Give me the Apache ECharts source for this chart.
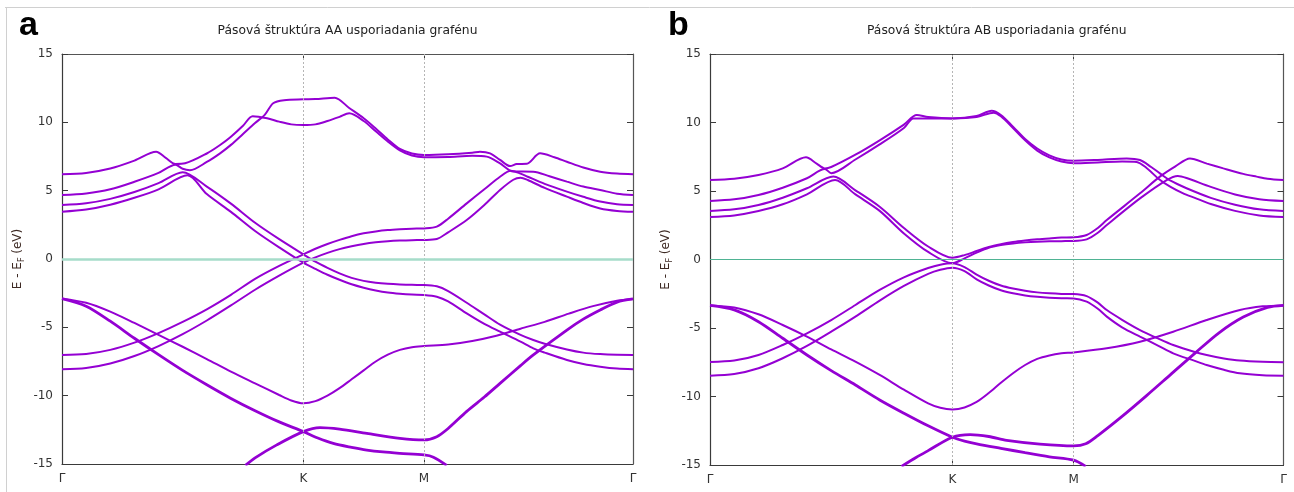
<!DOCTYPE html>
<html><head><meta charset="utf-8">
<script src="https://cdn.jsdelivr.net/npm/echarts@6/dist/echarts.min.js"></script>
<style>html,body{margin:0;padding:0;background:#fff;}#c{width:1294px;height:492px;}</style>
</head><body><div id="c"></div>
<script>
// ---- path / tick data ----
const kTickValues = [0, 1, 1.5, 2.366];
const kTickLabels = ['Γ', 'K', 'M', 'Γ'];
const kInnerTicks = [1, 1.5];
const eMin = -15, eMax = 15, eStep = 5;
const titles = ['Pásová štruktúra AA usporiadania grafénu', 'Pásová štruktúra AB usporiadania grafénu'];
const panelLetters = ['a', 'b'];

// ---- AA stacking bands [k, E] ----
const aa1 = [[0,6.2],[0.1,6.3],[0.2,6.62],[0.3,7.2],[0.39,7.85],[0.43,7.4],[0.47,6.95],[0.51,7.0],[0.6,7.72],[0.655,8.34],[0.7,8.95],[0.75,9.75],[0.79,10.45],[0.85,10.3],[0.9,10.05],[0.95,9.85],[1.0,9.8],[1.05,9.85],[1.1,10.1],[1.15,10.4],[1.19,10.66],[1.25,10.1],[1.3,9.35],[1.35,8.6],[1.4,7.95],[1.45,7.57],[1.5,7.44],[1.6,7.47],[1.7,7.55],[1.76,7.49],[1.815,7.0],[1.87,6.4],[1.953,6.39],[2.02,6.05],[2.092,5.66],[2.16,5.3],[2.23,5.05],[2.3,4.78],[2.366,4.68]];
const aa2 = [[0,4.68],[0.1,4.8],[0.2,5.1],[0.3,5.65],[0.4,6.3],[0.47,6.9],[0.5,6.6],[0.53,6.5],[0.6,7.1],[0.655,7.73],[0.7,8.35],[0.75,9.15],[0.8,9.95],[0.84,10.55],[0.875,11.4],[0.92,11.62],[1.0,11.68],[1.05,11.7],[1.13,11.8],[1.19,11.05],[1.25,10.3],[1.3,9.55],[1.35,8.75],[1.4,8.05],[1.45,7.72],[1.5,7.61],[1.6,7.66],[1.7,7.78],[1.732,7.85],[1.774,7.73],[1.815,7.25],[1.857,6.8],[1.884,6.95],[1.926,6.97],[1.981,7.73],[2.04,7.45],[2.092,7.12],[2.16,6.7],[2.23,6.39],[2.3,6.25],[2.366,6.2]];
const aa3 = [[0,3.95],[0.1,4.08],[0.2,4.4],[0.3,4.9],[0.4,5.55],[0.5,6.35],[0.6,5.3],[0.7,4.05],[0.8,2.65],[0.9,1.45],[1.0,0.34],[1.05,-0.2],[1.1,-0.65],[1.15,-1.05],[1.2,-1.38],[1.25,-1.6],[1.3,-1.73],[1.35,-1.81],[1.4,-1.86],[1.45,-1.89],[1.5,-1.9],[1.553,-2.0],[1.6,-2.35],[1.677,-3.2],[1.75,-4.05],[1.815,-4.8],[1.9,-5.55],[1.953,-5.93],[2.0,-6.2],[2.092,-6.62],[2.16,-6.85],[2.23,-6.96],[2.3,-7.01],[2.366,-7.02]];
const aa4 = [[0,3.46],[0.1,3.62],[0.2,3.97],[0.3,4.48],[0.4,5.1],[0.52,6.12],[0.6,4.75],[0.7,3.45],[0.8,2.05],[0.9,0.85],[1.0,-0.27],[1.05,-0.72],[1.1,-1.15],[1.15,-1.52],[1.2,-1.85],[1.25,-2.1],[1.3,-2.3],[1.35,-2.45],[1.4,-2.54],[1.45,-2.6],[1.5,-2.63],[1.553,-2.76],[1.6,-3.1],[1.677,-3.98],[1.75,-4.75],[1.815,-5.32],[1.9,-6.05],[1.953,-6.54],[2.0,-6.85],[2.092,-7.39],[2.16,-7.68],[2.23,-7.88],[2.3,-8.02],[2.366,-8.07]];
const aa5 = [[0,-7.02],[0.1,-6.95],[0.2,-6.65],[0.3,-6.12],[0.4,-5.42],[0.5,-4.6],[0.6,-3.68],[0.7,-2.62],[0.8,-1.45],[0.9,-0.5],[1.0,0.34],[1.05,0.75],[1.1,1.1],[1.15,1.4],[1.2,1.67],[1.25,1.88],[1.3,2.02],[1.35,2.12],[1.4,2.18],[1.45,2.22],[1.5,2.24],[1.553,2.37],[1.6,2.95],[1.677,4.07],[1.75,5.1],[1.815,6.02],[1.86,6.45],[1.9,6.25],[1.93,6.02],[2.0,5.5],[2.092,4.93],[2.16,4.55],[2.23,4.2],[2.3,4.0],[2.366,3.95]];
const aa6 = [[0,-8.07],[0.1,-7.98],[0.2,-7.65],[0.3,-7.1],[0.4,-6.37],[0.5,-5.5],[0.6,-4.5],[0.7,-3.4],[0.8,-2.25],[0.9,-1.22],[1.0,-0.27],[1.05,0.12],[1.1,0.45],[1.15,0.72],[1.2,0.93],[1.25,1.1],[1.3,1.22],[1.35,1.3],[1.4,1.35],[1.45,1.38],[1.5,1.39],[1.553,1.46],[1.6,1.95],[1.677,2.85],[1.75,3.95],[1.815,5.05],[1.87,5.8],[1.9,5.95],[1.93,5.78],[2.0,5.2],[2.092,4.56],[2.16,4.1],[2.23,3.7],[2.3,3.52],[2.366,3.46]];
const aa7 = [[0,-2.9],[0.1,-3.2],[0.2,-3.85],[0.3,-4.68],[0.4,-5.55],[0.5,-6.42],[0.6,-7.32],[0.7,-8.24],[0.8,-9.1],[0.9,-9.95],[0.95,-10.35],[1.0,-10.56],[1.05,-10.4],[1.1,-10.0],[1.15,-9.45],[1.2,-8.8],[1.25,-8.15],[1.3,-7.5],[1.35,-7.0],[1.4,-6.65],[1.45,-6.45],[1.5,-6.37],[1.6,-6.25],[1.7,-6.0],[1.8,-5.62],[1.9,-5.1],[2.0,-4.6],[2.1,-4.0],[2.2,-3.45],[2.3,-3.05],[2.366,-2.92]];
const aa8 = [[0,-2.9],[0.1,-3.45],[0.2,-4.55],[0.3,-5.8],[0.4,-7.0],[0.5,-8.15],[0.6,-9.2],[0.7,-10.2],[0.8,-11.1],[0.9,-11.92],[1.0,-12.63],[1.06,-13.1],[1.124,-13.49],[1.2,-13.78],[1.263,-13.98],[1.33,-14.12],[1.4,-14.22],[1.5,-14.34],[1.539,-14.5],[1.594,-15.1]];
const aa9 = [[0.76,-15.1],[0.8,-14.55],[0.89,-13.6],[1.0,-12.63],[1.069,-12.34],[1.15,-12.45],[1.263,-12.76],[1.4,-13.12],[1.5,-13.24],[1.553,-13.0],[1.6,-12.4],[1.677,-11.15],[1.75,-10.1],[1.815,-9.1],[1.9,-7.8],[1.953,-7.02],[2.092,-5.2],[2.16,-4.4],[2.23,-3.73],[2.3,-3.15],[2.366,-2.92]];

// ---- AB stacking bands [k, E] ----
const ab1 = [[0,5.8],[0.1,5.9],[0.2,6.17],[0.3,6.65],[0.396,7.46],[0.44,7.0],[0.474,6.65],[0.5,6.75],[0.6,7.65],[0.7,8.7],[0.8,9.85],[0.853,10.55],[0.9,10.4],[1.0,10.3],[1.1,10.4],[1.17,10.72],[1.2,10.45],[1.25,9.6],[1.3,8.7],[1.35,7.95],[1.4,7.45],[1.45,7.15],[1.5,7.02],[1.6,7.08],[1.7,7.15],[1.76,7.12],[1.8,6.7],[1.85,5.9],[1.9,5.3],[1.95,4.85],[2.0,4.5],[2.066,4.05],[2.166,3.55],[2.266,3.22],[2.366,3.1]];
const ab2 = [[0,4.27],[0.1,4.39],[0.2,4.71],[0.3,5.24],[0.4,5.93],[0.474,6.6],[0.5,6.3],[0.6,7.3],[0.7,8.4],[0.8,9.6],[0.839,10.3],[0.9,10.3],[1.0,10.3],[1.1,10.47],[1.162,10.86],[1.2,10.55],[1.25,9.7],[1.3,8.8],[1.35,8.1],[1.4,7.6],[1.45,7.3],[1.5,7.21],[1.6,7.27],[1.719,7.38],[1.774,7.26],[1.82,6.75],[1.856,6.29],[1.9,5.75],[1.966,5.2],[2.066,4.5],[2.166,4.0],[2.266,3.66],[2.366,3.54]];
const ab3 = [[0,3.54],[0.1,3.66],[0.2,3.98],[0.3,4.51],[0.4,5.2],[0.509,6.05],[0.6,5.05],[0.7,3.85],[0.8,2.3],[0.9,0.95],[1.0,0.13],[1.05,0.32],[1.1,0.62],[1.15,0.92],[1.2,1.12],[1.25,1.27],[1.3,1.38],[1.35,1.47],[1.4,1.54],[1.45,1.6],[1.5,1.62],[1.554,1.79],[1.6,2.3],[1.637,2.88],[1.774,4.83],[1.856,6.05],[1.92,6.8],[1.98,7.38],[2.05,7.0],[2.118,6.65],[2.2,6.25],[2.255,6.05],[2.3,5.9],[2.366,5.8]];
const ab4 = [[0,3.1],[0.1,3.22],[0.2,3.54],[0.3,4.03],[0.4,4.76],[0.516,5.8],[0.6,4.75],[0.7,3.55],[0.8,1.9],[0.9,0.55],[1.0,-0.27],[1.05,0.08],[1.1,0.5],[1.15,0.86],[1.2,1.05],[1.25,1.17],[1.3,1.25],[1.35,1.3],[1.4,1.33],[1.45,1.34],[1.5,1.35],[1.554,1.47],[1.6,1.95],[1.637,2.52],[1.774,4.46],[1.884,5.8],[1.93,6.1],[1.966,5.95],[2.066,5.3],[2.166,4.75],[2.266,4.4],[2.366,4.27]];
const ab5 = [[0,-7.48],[0.1,-7.38],[0.2,-6.97],[0.3,-6.24],[0.4,-5.39],[0.5,-4.42],[0.6,-3.32],[0.7,-2.22],[0.8,-1.3],[0.9,-0.62],[0.95,-0.38],[1.0,-0.27],[1.05,-0.55],[1.1,-1.1],[1.15,-1.55],[1.2,-1.9],[1.25,-2.12],[1.3,-2.28],[1.35,-2.4],[1.4,-2.47],[1.45,-2.51],[1.5,-2.52],[1.554,-2.67],[1.6,-3.15],[1.637,-3.69],[1.7,-4.4],[1.774,-5.15],[1.85,-5.78],[1.911,-6.24],[2.0,-6.75],[2.049,-6.97],[2.12,-7.22],[2.186,-7.38],[2.28,-7.47],[2.366,-7.5]];
const ab6 = [[0,-8.48],[0.1,-8.36],[0.2,-7.94],[0.3,-7.21],[0.4,-6.31],[0.5,-5.27],[0.6,-4.17],[0.7,-3.0],[0.8,-1.93],[0.9,-1.05],[0.95,-0.75],[1.0,-0.6],[1.05,-0.85],[1.1,-1.45],[1.15,-1.9],[1.2,-2.25],[1.25,-2.47],[1.3,-2.62],[1.35,-2.72],[1.4,-2.79],[1.45,-2.83],[1.5,-2.84],[1.554,-3.08],[1.6,-3.6],[1.637,-4.17],[1.7,-4.95],[1.774,-5.63],[1.85,-6.3],[1.911,-6.85],[2.0,-7.4],[2.049,-7.7],[2.12,-8.05],[2.186,-8.31],[2.28,-8.45],[2.366,-8.48]];
const ab7 = [[0,-3.35],[0.1,-3.5],[0.2,-4.0],[0.3,-4.78],[0.4,-5.63],[0.5,-6.56],[0.6,-7.46],[0.7,-8.43],[0.8,-9.5],[0.9,-10.5],[0.95,-10.82],[1.0,-10.94],[1.05,-10.8],[1.1,-10.4],[1.15,-9.75],[1.2,-9.0],[1.25,-8.3],[1.3,-7.7],[1.35,-7.25],[1.4,-7.0],[1.45,-6.85],[1.5,-6.78],[1.637,-6.48],[1.774,-6.0],[1.911,-5.27],[2.049,-4.42],[2.186,-3.69],[2.28,-3.42],[2.366,-3.35]];
const ab8 = [[0,-3.35],[0.1,-3.68],[0.2,-4.54],[0.3,-5.75],[0.4,-6.97],[0.5,-8.11],[0.6,-9.16],[0.7,-10.25],[0.8,-11.22],[0.9,-12.14],[1.0,-12.97],[1.05,-13.25],[1.1,-13.45],[1.2,-13.78],[1.3,-14.1],[1.4,-14.4],[1.5,-14.64],[1.55,-15.1]];
const ab9 = [[0.79,-15.1],[0.85,-14.45],[0.9,-13.95],[1.0,-12.97],[1.073,-12.78],[1.15,-12.92],[1.224,-13.2],[1.361,-13.47],[1.5,-13.6],[1.55,-13.45],[1.6,-12.85],[1.7,-11.45],[1.8,-9.95],[1.9,-8.4],[2.0,-6.85],[2.1,-5.35],[2.2,-4.2],[2.3,-3.5],[2.366,-3.35]];

const panelBands = [
  [aa1, aa2, aa3, aa4, aa5, aa6, aa7, aa8, aa9],
  [ab1, ab2, ab3, ab4, ab5, ab6, ab7, ab8, ab9]
];
const wideBands = [[7, 8], [7, 8]];

// ---- layout / style ----
const grids = [
  { left: 62, top: 54, width: 571, height: 410 },
  { left: 710, top: 54, width: 573.5, height: 411 }
];
const zeroStyles = [
  { color: '#a6dcca', width: 2.6 },
  { color: '#4fb393', width: 1.2 }
];
const bandColor = '#9400d3';
const frameColor = '#3a3a3a';
const font = 'DejaVu Sans';

const xAxes = [], yAxes = [], series = [], graphics = [];
grids.forEach((g, gi) => {
  xAxes.push({
    type: 'value', gridIndex: gi, position: 'bottom', min: 0, max: 2.366,
    axisLine: { show: true, onZero: false, lineStyle: { color: frameColor, width: 1.2 } },
    axisTick: { show: true, inside: true, length: 6, customValues: kInnerTicks, lineStyle: { color: frameColor } },
    axisLabel: {
      show: true, customValues: kTickValues, margin: 9, fontFamily: font, fontSize: 12, color: '#333',
      showMinLabel: true, showMaxLabel: true,
      formatter: v => { let i = 0, d = 1e9; kTickValues.forEach((t, j) => { if (Math.abs(t - v) < d) { d = Math.abs(t - v); i = j; } }); return kTickLabels[i]; }
    },
    splitLine: { show: false }
  });
  xAxes.push({
    type: 'value', gridIndex: gi, position: 'top', min: 0, max: 2.366,
    axisLine: { show: true, onZero: false, lineStyle: { color: '#555', width: 1.2 } },
    axisTick: { show: true, inside: true, length: 6, customValues: kInnerTicks, lineStyle: { color: frameColor } },
    axisLabel: { show: false }, splitLine: { show: false }
  });
  yAxes.push({
    type: 'value', gridIndex: gi, position: 'left', min: eMin, max: eMax, interval: eStep,
    axisLine: { show: true, onZero: false, lineStyle: { color: frameColor, width: 1.2 } },
    axisTick: { show: true, inside: true, length: 6, lineStyle: { color: frameColor } },
    axisLabel: { show: true, margin: 9, fontFamily: font, fontSize: 12, color: '#333' },
    splitLine: { show: false },
    name: '{a|E - E}{s|F}{a| (eV)}', nameLocation: 'middle', nameRotate: 90, nameGap: 36,
    nameTextStyle: {
      rich: {
        a: { fontFamily: font, fontSize: 12, color: '#3e2a24', lineHeight: 16 },
        s: { fontFamily: font, fontSize: 8, color: '#3e2a24', lineHeight: 16, verticalAlign: 'bottom', padding: [5, 0, 0, 0] }
      }
    }
  });
  yAxes.push({
    type: 'value', gridIndex: gi, position: 'right', min: eMin, max: eMax, interval: eStep,
    axisLine: { show: true, onZero: false, lineStyle: { color: '#555', width: 1.2 } },
    axisTick: { show: true, inside: true, length: 6, lineStyle: { color: frameColor } },
    axisLabel: { show: false }, splitLine: { show: false }
  });
  // reference lines: symmetry points and Fermi level
  series.push({
    type: 'line', xAxisIndex: gi * 2, yAxisIndex: gi * 2, data: [], silent: true, animation: false, z: 1,
    markLine: {
      silent: true, symbol: ['none', 'none'], animation: false, label: { show: false },
      data: [
        { xAxis: 1, lineStyle: { color: '#b5b5b5', width: 1, type: [2, 2] } },
        { xAxis: 1.5, lineStyle: { color: '#b5b5b5', width: 1, type: [2, 2] } },
        { yAxis: 0, lineStyle: { color: zeroStyles[gi].color, width: zeroStyles[gi].width, type: 'solid' } }
      ]
    }
  });
  panelBands[gi].forEach((band, bi) => {
    series.push({
      type: 'line', xAxisIndex: gi * 2, yAxisIndex: gi * 2, data: band,
      showSymbol: false, smooth: 0.3, silent: true, animation: false, z: 3, clip: true,
      lineStyle: { color: bandColor, width: wideBands[gi].includes(bi) ? 2.8 : 2 }
    });
  });
  const cx = g.left + g.width / 2;
  graphics.push({ type: 'text', x: cx, y: 31, style: { text: titles[gi], fill: '#222', font: '12.3px "DejaVu Sans"', align: 'center', textAlign: 'center', verticalAlign: 'middle', textVerticalAlign: 'middle' } });
  graphics.push({ type: 'text', x: gi === 0 ? 19 : 668, y: 26, style: { text: panelLetters[gi], fill: '#000', font: 'bold 34px "Liberation Sans"', align: 'left', textAlign: 'left', verticalAlign: 'middle', textVerticalAlign: 'middle' } });
});
graphics.push({ type: 'line', shape: { x1: 5, y1: 7.5, x2: 1294, y2: 7.5 }, style: { stroke: '#d0d0d0', lineWidth: 1 } });
graphics.push({ type: 'line', shape: { x1: 6.5, y1: 7, x2: 6.5, y2: 492 }, style: { stroke: '#d0d0d0', lineWidth: 1 } });

const chart = echarts.init(document.getElementById('c'), null, { renderer: 'canvas' });
chart.setOption({
  animation: false, backgroundColor: '#fff',
  grid: grids.map(g => Object.assign({ containLabel: false }, g)),
  xAxis: xAxes, yAxis: yAxes, series: series, graphic: graphics
});
</script></body></html>
